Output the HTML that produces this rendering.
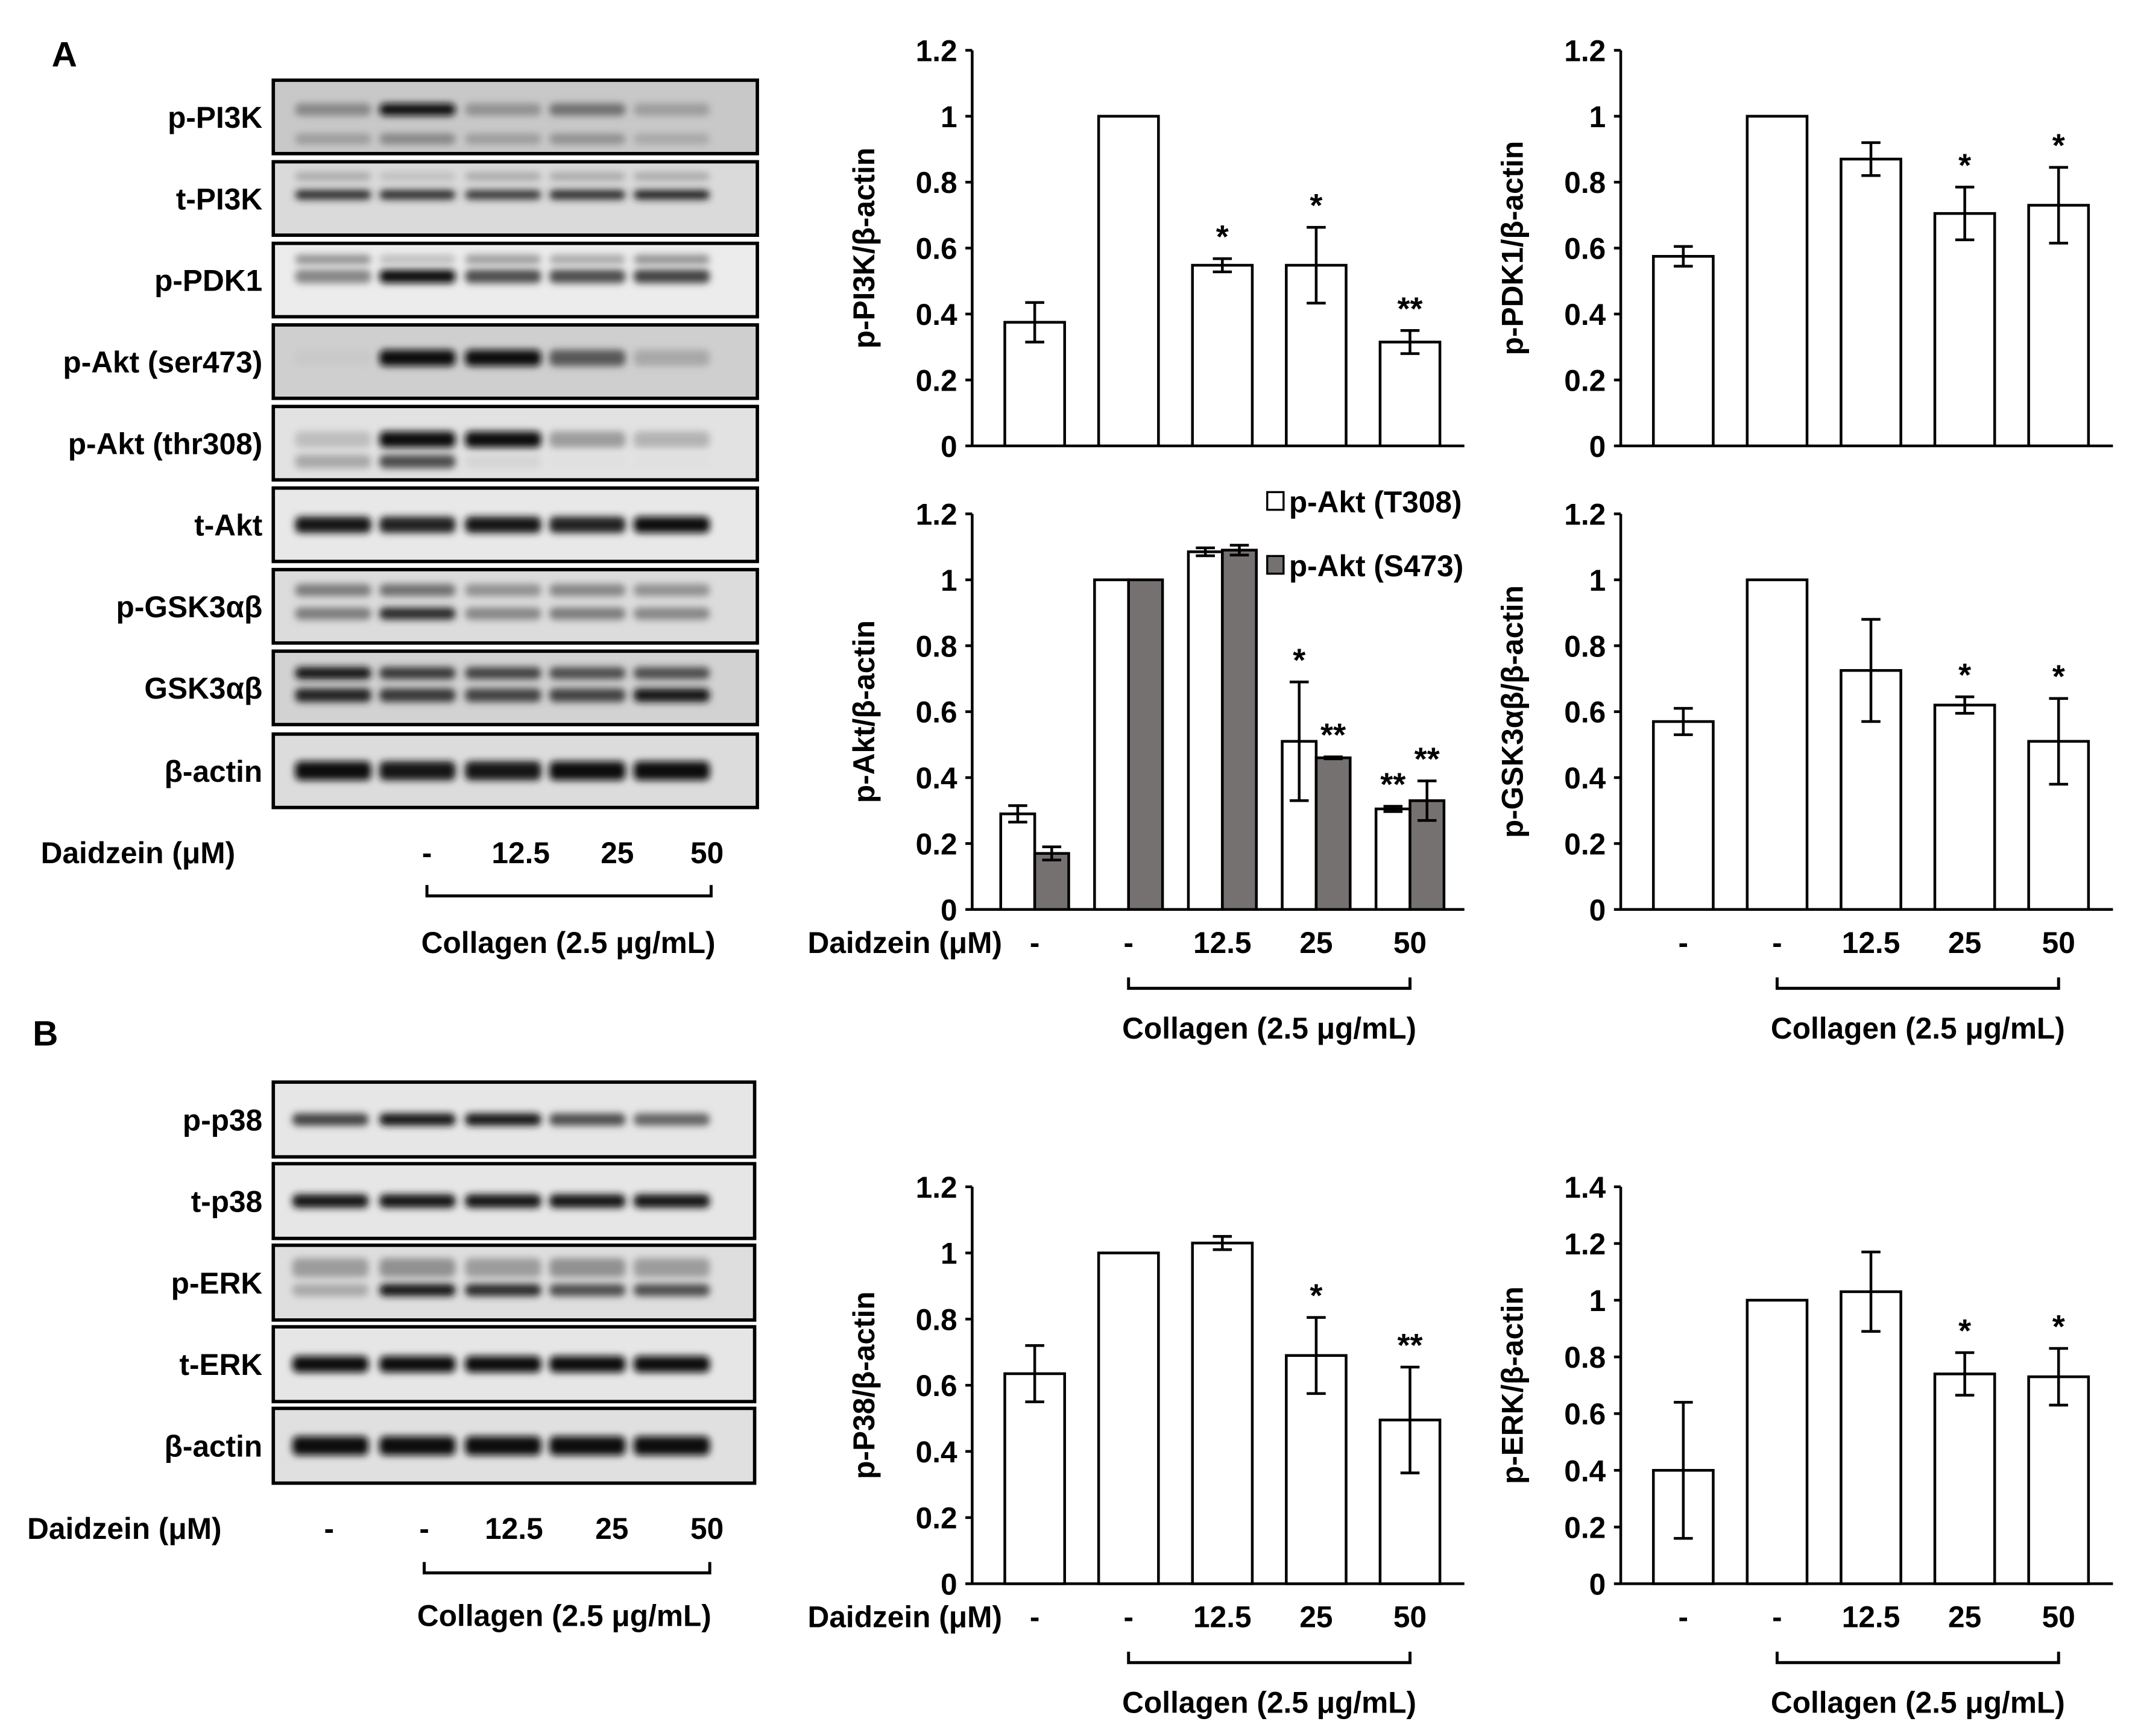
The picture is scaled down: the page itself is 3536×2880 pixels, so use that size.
<!DOCTYPE html>
<html><head><meta charset="utf-8"><style>
html,body{margin:0;padding:0;background:#fff}
svg{display:block}
text{font-family:"Liberation Sans",Arial,sans-serif;font-weight:bold;fill:#000}
</style></head><body>
<svg id="fig" xmlns="http://www.w3.org/2000/svg" width="3536" height="2880" viewBox="0 0 1568 1277" preserveAspectRatio="none">
<defs><filter id="blur" x="-20%" y="-100%" width="140%" height="300%"><feGaussianBlur stdDeviation="2.6"/></filter></defs>
<text x="38" y="49" font-size="26">A</text>
<text x="24" y="769" font-size="26">B</text>
<g id="blotsA"></g>
<g id="blotsB"></g>
<g id="charts"></g>
</svg>
<script>
const NS='http://www.w3.org/2000/svg';
const cats=['-','-','12.5','25','50'];
const pi3kVals=[0.375,1,0.548,0.548,0.315];
const pi3kErr=[0.06,0,0.02,0.115,0.035];
const pi3kSig=['','','*','*','**'];
const pdk1Vals=[0.575,1,0.87,0.705,0.73];
const pdk1Err=[0.03,0,0.05,0.08,0.115];
const pdk1Sig=['','','','*','*'];
const aktT308Vals=[0.29,1,1.085,0.51,0.305];
const aktT308Err=[0.025,0,0.012,0.18,0.008];
const aktT308Sig=['','','','*','**'];
const aktS473Vals=[0.17,1,1.09,0.46,0.33];
const aktS473Err=[0.02,0,0.015,0.003,0.06];
const aktS473Sig=['','','','**','**'];
const gskVals=[0.57,1,0.725,0.62,0.51];
const gskErr=[0.04,0,0.155,0.025,0.13];
const gskSig=['','','','*','*'];
const p38Vals=[0.635,1,1.03,0.69,0.495];
const p38Err=[0.085,0,0.02,0.115,0.16];
const p38Sig=['','','','*','**'];
const erkVals=[0.4,1,1.03,0.74,0.73];
const erkErr=[0.24,0,0.14,0.075,0.1];
const erkSig=['','','','*','*'];
const ticks12=['0','0.2','0.4','0.6','0.8','1','1.2'];
const ticks14=['0','0.2','0.4','0.6','0.8','1','1.2','1.4'];

function el(tag,attrs,parent,txt){const e=document.createElementNS(NS,tag);for(const k in attrs)e.setAttribute(k,attrs[k]);if(txt!==undefined)e.textContent=txt;(parent||document.getElementById('charts')).appendChild(e);return e;}

function chart(o){
  const g=el('g',{});
  
  
  const ymax=parseFloat(o.ticks[o.ticks.length-1]);
  const Y=v=>o.y0-(v/ymax)*(o.y0-o.ytop);
  const X=i=>o.ax+46+i*69;
  const ya=el('line',{x1:o.ax,y1:o.ytop,x2:o.ax,y2:o.y0,stroke:'#000','stroke-width':2},g);
  
  const xa=el('line',{x1:o.ax,y1:o.y0,x2:o.ax+362,y2:o.y0,stroke:'#000','stroke-width':2},g);
  
  o.ticks.forEach(t=>{const v=parseFloat(t);
    el('line',{x1:o.ax-5,y1:Y(v),x2:o.ax,y2:Y(v),stroke:'#000','stroke-width':2},g);
    const tl=el('text',{x:o.ax-11,y:Y(v)+8,'font-size':22,'text-anchor':'end'},g,t);
    });
  const yt=el('text',{x:0,y:0,'font-size':22,'text-anchor':'middle',transform:`translate(${o.ax-72},${(o.ytop+o.y0)/2}) rotate(-90)`},g,o.ytitle);
  
  const series=o.series;
  const n=series.length, bw=n===1?44:25;
  series.forEach((s,si)=>{
    s.vals.forEach((v,i)=>{
      const cx=n===1?X(i):X(i)+(si===0?-bw/2:bw/2);
      const b=el('rect',{x:cx-bw/2,y:Y(v),width:bw,height:o.y0-Y(v),fill:s.fill,stroke:'#000','stroke-width':2},g);
      
      const e=s.err[i];
      if(e>0){const p=`M${cx},${Y(v-e)}V${Y(v+e)}M${cx-7},${Y(v+e)}H${cx+7}M${cx-7},${Y(v-e)}H${cx+7}`;
        const eb=el('path',{d:p,stroke:'#000','stroke-width':2,fill:'none'},g);
        }
      if(s.sig[i]){const st=el('text',{x:cx,y:Y(v+e)-8,'font-size':24,'text-anchor':'middle'},g,s.sig[i]);
        }
    });
  });
  if(!o.xlabels) return;
  const ly=o.y0+32;
  if(o.daidzein){const d=el('text',{x:o.ax+22,y:ly,'font-size':22,'text-anchor':'end'},g,'Daidzein (μM)');
    }
  cats.forEach((c,i)=>{const t=el('text',{x:X(i),y:ly,'font-size':22,'text-anchor':'middle'},g,c);
    });
  const br=el('path',{d:`M${X(1)},${o.y0+50}V${o.y0+58}H${X(4)}V${o.y0+50}`,stroke:'#000','stroke-width':2.2,fill:'none'},g);
  
  const cl=el('text',{x:(X(1)+X(4))/2,y:o.y0+95,'font-size':22,'text-anchor':'middle'},g,'Collagen (2.5 μg/mL)');
  
}
chart({name:'chart-p-pi3k',ax:715,ytop:37,y0:328,ticks:ticks12,ytitle:'p-PI3K/β-actin',series:[{key:'pi3k',vals:pi3kVals,err:pi3kErr,sig:pi3kSig,fill:'#fff'}],xlabels:false});
chart({name:'chart-p-pdk1',ax:1192,ytop:37,y0:328,ticks:ticks12,ytitle:'p-PDK1/β-actin',series:[{key:'pdk1',vals:pdk1Vals,err:pdk1Err,sig:pdk1Sig,fill:'#fff'}],xlabels:false});
chart({name:'chart-p-akt',ax:715,ytop:378,y0:669,ticks:ticks12,ytitle:'p-Akt/β-actin',series:[{key:'t308',vals:aktT308Vals,err:aktT308Err,sig:aktT308Sig,fill:'#fff'},{key:'s473',vals:aktS473Vals,err:aktS473Err,sig:aktS473Sig,fill:'#767171'}],daidzein:true,xlabels:true});
chart({name:'chart-p-gsk3',ax:1192,ytop:378,y0:669,ticks:ticks12,ytitle:'p-GSK3αβ/β-actin',series:[{key:'gsk',vals:gskVals,err:gskErr,sig:gskSig,fill:'#fff'}],daidzein:false,xlabels:true});
chart({name:'chart-p-p38',ax:715,ytop:873,y0:1165,ticks:ticks12,ytitle:'p-P38/β-actin',series:[{key:'p38',vals:p38Vals,err:p38Err,sig:p38Sig,fill:'#fff'}],daidzein:true,xlabels:true});
chart({name:'chart-p-erk',ax:1192,ytop:873,y0:1165,ticks:ticks14,ytitle:'p-ERK/β-actin',series:[{key:'erk',vals:erkVals,err:erkErr,sig:erkSig,fill:'#fff'}],daidzein:false,xlabels:true});
const lg=el('g',{});


el('rect',{x:932,y:362,width:12,height:13,fill:'#fff',stroke:'#000','stroke-width':1.5},lg);
el('text',{x:948,y:377,'font-size':22},lg,'p-Akt (T308)');
el('rect',{x:932,y:409,width:12,height:13,fill:'#767171',stroke:'#000','stroke-width':1.5},lg);
el('text',{x:948,y:424,'font-size':22},lg,'p-Akt (S473)');

const lanesA=[245,307,370,432,494];
const rowsA=[
 {l:'p-PI3K',y:59,bg:'#c8c8c8',b:[{dy:0.4,h:9,i:[0.45,1,0.4,0.55,0.35]},{dy:0.8,h:8,i:[0.35,0.45,0.35,0.4,0.3]}]},
 {l:'t-PI3K',y:119,bg:'#dadada',b:[{dy:0.45,h:7,i:[0.85,0.85,0.8,0.85,0.9]},{dy:0.2,h:6,i:[0.3,0.2,0.3,0.3,0.3]}]},
 {l:'p-PDK1',y:179,bg:'#ececec',b:[{dy:0.45,h:10,i:[0.45,1,0.7,0.7,0.75]},{dy:0.22,h:7,i:[0.4,0.2,0.35,0.3,0.4]}]},
 {l:'p-Akt (ser473)',y:239,bg:'#cfcfcf',b:[{dy:0.45,h:12,i:[0.15,1,1,0.65,0.3]}]},
 {l:'p-Akt (thr308)',y:299,bg:'#e2e2e2',b:[{dy:0.45,h:12,i:[0.2,1,1,0.35,0.25]},{dy:0.75,h:10,i:[0.3,0.7,0.1,0.05,0.05]}]},
 {l:'t-Akt',y:359,bg:'#e8e8e8',b:[{dy:0.5,h:12,i:[0.95,0.9,0.95,0.9,1]}]},
 {l:'p-GSK3αβ',y:419,bg:'#dcdcdc',b:[{dy:0.28,h:9,i:[0.5,0.55,0.4,0.45,0.4]},{dy:0.6,h:9,i:[0.5,0.85,0.45,0.5,0.45]}]},
 {l:'GSK3αβ',y:479,bg:'#d2d2d2',b:[{dy:0.3,h:9,i:[0.95,0.8,0.75,0.7,0.7]},{dy:0.6,h:10,i:[0.9,0.8,0.75,0.75,0.95]}]},
 {l:'β-actin',y:540,bg:'#dcdcdc',b:[{dy:0.5,h:14,i:[1,0.95,0.95,1,1]}]}
];
const lanesB=[243,307,370,432,494];
const rowsB=[
 {l:'p-p38',y:796,bg:'#e6e6e6',b:[{dy:0.5,h:9,i:[0.75,0.95,0.95,0.7,0.6]}]},
 {l:'t-p38',y:856,bg:'#e6e6e6',b:[{dy:0.5,h:10,i:[0.95,0.95,0.95,0.95,0.95]}]},
 {l:'p-ERK',y:916,bg:'#dedede',b:[{dy:0.3,h:14,i:[0.35,0.4,0.35,0.4,0.35]},{dy:0.6,h:9,i:[0.3,0.95,0.85,0.7,0.7]}]},
 {l:'t-ERK',y:976,bg:'#e6e6e6',b:[{dy:0.5,h:12,i:[1,1,1,1,1]}]},
 {l:'β-actin',y:1036,bg:'#e0e0e0',b:[{dy:0.5,h:14,i:[1,1,1,1,1]}]}
];
function blots(gid,rows,lanes,x1,x2,h){
  const g=document.getElementById(gid);
  rows.forEach(r=>{
    const rg=el('g',{},g);
    
    
    el('rect',{x:x1,y:r.y,width:x2-x1,height:h,fill:r.bg},rg);
    r.b.forEach(b=>{b.i.forEach((v,k)=>{
      const c=Math.round(235-225*v);
      el('rect',{x:lanes[k]-28,y:r.y+h*b.dy-b.h/2,width:56,height:b.h,rx:4,fill:`rgb(${c},${c},${c})`,filter:'url(#blur)'},rg);
    });});
    el('rect',{x:x1,y:r.y,width:x2-x1,height:h,fill:'none',stroke:'#000','stroke-width':2.5},rg);
    const t=el('text',{x:x1-8,y:r.y+h/2+8,'font-size':22,'text-anchor':'end'},rg,r.l);
    
  });
}
blots('blotsA',rowsA,lanesA,201,557,54);
blots('blotsB',rowsB,lanesB,201,555,55);
function blotLabels(gid,y,xs,labs,bx1,bx2,by,cx,cy,dx){
  const g=document.getElementById(gid);
  const d=el('text',{x:dx,y:y,'font-size':22},g,'Daidzein (μM)');
  
  labs.forEach((s,i)=>{const t=el('text',{x:xs[i],y:y,'font-size':22,'text-anchor':'middle'},g,s);
    });
  const br=el('path',{d:`M${bx1},${by}V${by+8}H${bx2}V${by}`,stroke:'#000','stroke-width':2.2,fill:'none'},g);
  
  const c=el('text',{x:cx,y:cy,'font-size':22,'text-anchor':'middle'},g,'Collagen (2.5 μg/mL)');
  
}
blotLabels('blotsA',635,[314,383,454,520],['-','12.5','25','50'],314,523,651,418,701,30);
blotLabels('blotsB',1132,[242,312,378,450,520],['-','-','12.5','25','50'],312,522,1149,415,1196,20);
</script>
</body></html>
